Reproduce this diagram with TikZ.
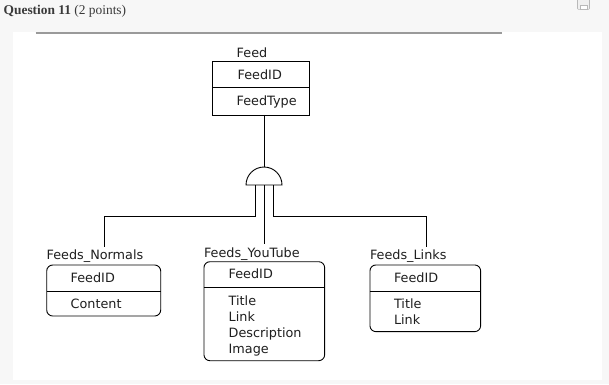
\documentclass[tikz,border=0pt]{standalone}
\usepackage{fontspec}
\setmainfont{DejaVu Sans}
\newfontfamily\qfont{Liberation Serif}
\definecolor{pagebg}{HTML}{F7F7F7}
\definecolor{rulegray}{HTML}{9A9A9A}
\definecolor{qtext}{HTML}{3A3A3A}
\begin{document}
\begin{tikzpicture}[x=1pt,y=-1pt,
  ent/.style={draw=black, line width=0.9pt, inner sep=0pt, outer sep=0pt},
  rent/.style={ent, rounded corners=6pt},
  txt/.style={anchor=base west, inner sep=0pt, outer sep=0pt, font=\fontsize{12.8pt}{15pt}\selectfont, text=black!88},
  conn/.style={draw=black, line width=0.9pt}
]
% background and panel
\fill[pagebg] (0,0) rectangle (609,384);
\useasboundingbox (0,0) rectangle (609,384);
\fill[white] (12.7,32) rectangle (602,380);
\draw[rulegray, line width=2pt] (35.7,33) -- (502,33);
% header
\node[anchor=base west, inner sep=0pt, text=qtext, font=\qfont\fontsize{13.4pt}{15pt}\selectfont] (qtitle) at (3.5,14) {\textbf{Question 11} (2 points)};
% small save icon
\draw[gray!55, fill=gray!12, line width=0.6pt, rounded corners=0.8pt] (577.5,-1) rectangle (589.5,9.3);
\draw[gray!55, fill=white, line width=0.5pt] (580,5) rectangle (587,9.3);

% Feed entity
\node[txt, anchor=base] (feedlbl) at (252,57.3) {Feed};
\node[ent, minimum width=96.3pt, minimum height=53.3pt] (feed) at (261,88.3) {};
\draw[conn] (feed.west |- 0,87.7) -- (feed.east |- 0,87.7);
\node[txt] (feedid) at (237.7,79.1) {FeedID};
\node[txt] (feedtype) at (236.7,105.6) {FeedType};

% ISA symbol
\coordinate (isaL) at (246,185);
\coordinate (isaR) at (282,185);
\coordinate (isaTop) at (264,167);
\draw[conn] (isaL) arc[start angle=180, end angle=0, radius=18pt] -- cycle;
\draw[conn] (feed.south -| isaTop) -- (isaTop);

% Feeds_Normals
\node[txt] (normlbl) at (46.7,259.6) {Feeds\_Normals};
\node[rent, minimum width=114pt, minimum height=51pt] (norm) at (103.7,290.5) {};
\draw[conn] (norm.west |- 0,291) -- (norm.east |- 0,291);
\node[txt] (normid) at (70.7,282.6) {FeedID};
\node[txt] (normcontent) at (70.7,308.6) {Content};

% Feeds_YouTube
\node[txt] (ytlbl) at (204,257.3) {Feeds\_YouTube};
\node[rent, minimum width=120.7pt, minimum height=99pt] (yt) at (264.3,311.2) {};
\draw[conn] (yt.west |- 0,287.3) -- (yt.east |- 0,287.3);
\node[txt] (ytid) at (228.7,278.6) {FeedID};
\node[txt] (yttitle) at (228.7,305.6) {Title};
\node[txt] (ytlink) at (228.7,321.6) {Link};
\node[txt] (ytdesc) at (228.7,337.6) {Description};
\node[txt] (ytimage) at (228.7,353.6) {Image};

% Feeds_Links
\node[txt] (linklbl) at (370,259.6) {Feeds\_Links};
\node[rent, minimum width=110.7pt, minimum height=66.7pt] (lnk) at (425.3,298.3) {};
\draw[conn] (lnk.west |- 0,291) -- (lnk.east |- 0,291);
\node[txt] (lnkid) at (394,282.6) {FeedID};
\node[txt] (lnktitle) at (394,308.6) {Title};
\node[txt] (lnklink) at (394,324.6) {Link};

% connectors
\coordinate (nEnd) at (104,247);
\coordinate (yEnd) at (264.3,244);
\coordinate (lEnd) at (426,247);
\draw[conn] (255.3,185) -- (255.3,216.7) -| (nEnd);
\draw[conn] (273.3,185) -- (273.3,216.7) -| (lEnd);
\draw[conn] (264.3,185) -- (yEnd);
\end{tikzpicture}
\end{document}
